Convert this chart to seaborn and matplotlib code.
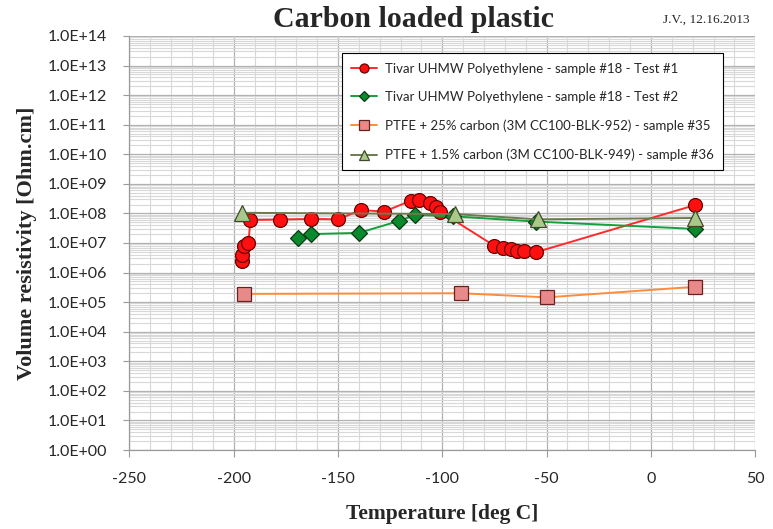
import numpy as np
import pandas as pd
import matplotlib
matplotlib.use("Agg")
import matplotlib.pyplot as plt
import matplotlib.ticker as mticker
import seaborn as sns

# data
t1_temp = [-196, -196, -195, -193, -192, -178, -163, -150, -139, -128,
           -115, -111, -106, -103, -101, -75, -71, -67, -64, -61, -55, 21]
t1_res = [2.5e6, 4.0e6, 8.0e6, 1.0e7, 6.0e7, 6.2e7, 6.5e7, 6.3e7, 1.3e8, 1.15e8,
          2.7e8, 2.8e8, 2.2e8, 1.7e8, 1.15e8, 8.0e6, 7.0e6, 6.5e6, 5.5e6, 5.3e6, 4.9e6, 1.9e8]

t2_temp = [-169, -163, -140, -121, -113, -95, -55, 21]
t2_res = [1.5e7, 2.0e7, 2.2e7, 5.5e7, 8.9e7, 8.0e7, 5.3e7, 3.0e7]

p25_temp = [-195, -91, -50, 21]
p25_res = [1.9e5, 2.0e5, 1.45e5, 3.3e5]

p15_temp = [-196, -94, -54, 21]
p15_res = [1.05e8, 9.5e7, 6.3e7, 7.0e7]

labels = ["Tivar UHMW Polyethylene - sample #18 - Test #1",
          "Tivar UHMW Polyethylene - sample #18 - Test #2",
          "PTFE + 25% carbon (3M CC100-BLK-952) - sample #35",
          "PTFE + 1.5% carbon (3M CC100-BLK-949) - sample #36"]

sns.set_style("white")
plt.rcParams['font.family'] = ['Lato', 'DejaVu Sans']
plt.rcParams['axes.unicode_minus'] = False

fig = plt.figure(figsize=(7.73, 5.29), dpi=100)
ax = fig.add_axes([0.1675, 0.1493, 0.8095, 0.7827])

# series styles: line colour, marker, face, edge, size
styles = [
    ("#ff2a2a", "o", "#ff1010", "#6a0000", 10),
    ("#14a03c", "D", "#0a8a2c", "#0a3a14", 8.5),
    ("#ff8c3c", "s", "#e88a8a", "#6a2020", 10),
    ("#6e7a4e", "^", "#a9c98a", "#3e4a2a", 12),
]
series = [(t1_temp, t1_res), (t2_temp, t2_res), (p25_temp, p25_res), (p15_temp, p15_res)]

for (tx, ry), lab, (lc, mk, fc, ec, ms) in zip(series, labels, styles):
    df = pd.DataFrame({"temp": tx, "res": ry})
    sns.lineplot(data=df, x="temp", y="res", ax=ax, sort=False, estimator=None,
                 color=lc, linewidth=1.4, marker=mk, markersize=ms,
                 markerfacecolor=fc, markeredgecolor=ec, markeredgewidth=0.9,
                 label=lab, zorder=3)

ax.set_yscale("log")
ax.set_xlim(-250, 50)
ax.set_ylim(1, 1e14)
ax.set_xticks(np.arange(-250, 51, 50))
ax.xaxis.set_minor_locator(mticker.MultipleLocator(10))
ax.yaxis.set_major_locator(mticker.LogLocator(base=10, numticks=20))
ax.yaxis.set_minor_locator(mticker.LogLocator(base=10, subs=np.arange(2, 10), numticks=20))
ax.yaxis.set_minor_formatter(mticker.NullFormatter())
ax.yaxis.set_major_formatter(mticker.FuncFormatter(lambda v, p: "%.1fE+%02d" % (1.0, round(np.log10(v)))))

ax.grid(which="major", color="#b0b0b0", linewidth=0.9)
ax.grid(which="minor", color="#d8d8d8", linewidth=0.8)
ax.set_axisbelow(True)

for s in ["top", "right"]:
    ax.spines[s].set_visible(False)
for s in ["left", "bottom"]:
    ax.spines[s].set_color("#9a9a9a")
    ax.spines[s].set_linewidth(0.9)

ax.tick_params(axis="y", which="major", left=True, length=4, color="#9a9a9a", pad=12, labelsize=11.5)
ax.tick_params(axis="x", which="major", bottom=True, length=5, color="#9a9a9a", pad=11, labelsize=11.5)
ax.tick_params(which="minor", left=False, bottom=False)

serif = ['Liberation Serif', 'DejaVu Serif']
ax.set_xlabel("Temperature [deg C]", family=serif, fontweight="bold", fontsize=15.5, labelpad=13)
ax.set_ylabel("Volume resistivity [Ohm.cm]", family=serif, fontweight="bold", fontsize=16, labelpad=8)

fig.text(0.535, 0.963, "Carbon loaded plastic", family=serif, fontweight="bold",
         fontsize=21.5, ha="center", va="center")
fig.text(0.97, 0.962, "J.V., 12.16.2013", family=serif, fontsize=9.5, ha="right", va="center")

handles, labs = ax.get_legend_handles_labels()
leg = ax.legend(handles, labs, loc="upper right", bbox_to_anchor=(0.9596, 0.974),
                frameon=True, fancybox=False, edgecolor="black", framealpha=1,
                fontsize=9.5, labelspacing=1.25, handlelength=2.0, borderpad=0.7,
                handletextpad=0.6, markerscale=0.65)
leg.get_frame().set_linewidth(0.8)

fig.savefig("out.png", dpi=100)
